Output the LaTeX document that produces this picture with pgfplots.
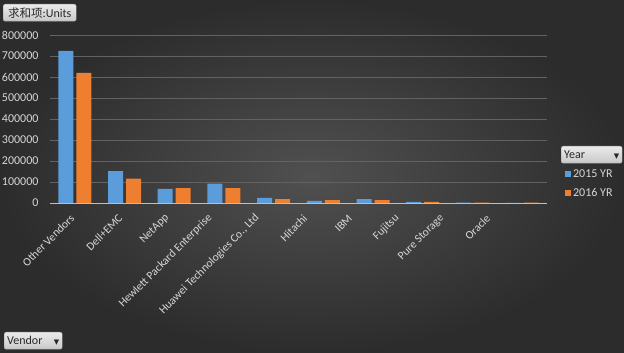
\documentclass[border=0pt]{standalone}
\usepackage{fontspec}
\setmainfont{Carlito}
\newfontfamily\cjk{Noto Sans CJK SC}
\newfontfamily\dejavu{DejaVu Sans}
\usepackage{pgfplots}
\pgfplotsset{compat=1.18}
\definecolor{bgin}{RGB}{80,80,80}
\definecolor{bgout}{RGB}{44,44,44}
\definecolor{gridc}{RGB}{98,98,98}
\definecolor{axisc}{RGB}{190,190,190}
\definecolor{txt}{RGB}{215,215,215}
\definecolor{cblue}{RGB}{91,157,219}
\definecolor{corange}{RGB}{238,126,48}
\definecolor{btntop}{RGB}{235,235,235}
\definecolor{btnbot}{RGB}{200,200,200}
\definecolor{btntxt}{RGB}{40,40,40}
\tikzset{button/.style={rounded corners=2pt, top color=btntop, bottom color=btnbot, draw=btnbot!80!black, text=btntxt, font=\fontsize{12}{14}\selectfont, inner sep=2pt, minimum height=17pt, anchor=north west}}
\begin{document}
\begin{tikzpicture}[x=1pt,y=1pt]
\useasboundingbox (0,0) rectangle (624,353);
\shade[inner color=bgin, outer color=bgout] (0,0) rectangle (624,353);
\begin{axis}[
  at={(50pt,150pt)}, anchor=south west, scale only axis,
  width=497pt, height=168pt,
  xmin=-0.5, xmax=9.5, ymin=0, ymax=800000,
  ytick={0,100000,...,800000},
  scaled y ticks=false,
  /pgf/number format/assume math mode=true,
  yticklabel style={/pgf/number format/fixed, /pgf/number format/1000 sep={}, text=txt, font=\fontsize{12}{14}\selectfont, xshift=-8pt},
  xtick={0,0.964,1.909,2.775,3.720,4.686,5.592,6.537,7.443,8.368},
  xticklabels={Other Vendors,Dell+EMC,NetApp,Hewlett Packard Enterprise,{Huawei Technologies Co., Ltd},Hitachi,IBM,Fujitsu,Pure Storage,Oracle},
  xticklabel style={xshift=0pt, yshift=-11pt, rotate=45, anchor=east, text=txt, font=\fontsize{11.5}{13}\selectfont},
  major tick length=0pt,
  axis x line*=bottom, axis y line*=left,
  x axis line style={draw=axisc, line width=0.8pt, -},
  y axis line style={draw=none},
  ymajorgrids, grid style={draw=gridc, line width=0.7pt},
  axis background/.style={fill=none},
  legend style={at={(1.03,0.225)}, anchor=north west, draw=none, fill=none, text=txt, font=\fontsize{12}{14}\selectfont, row sep=6pt, legend cell align=left},
  legend image code/.code={\fill[#1,draw=none] (0pt,-3pt) rectangle (6pt,3pt);},
]
\addplot[ybar, bar width=15pt, bar shift=-9pt, fill=cblue, draw=none] coordinates {
(0,724000) (1,152000) (2,67000) (3,92000) (4,24000) (5,10000) (6,19000) (7,5000) (8,2000) (9,1000)};
\addplot[ybar, bar width=15pt, bar shift=9pt, fill=corange, draw=none] coordinates {
(0,620000) (1,116000) (2,71000) (3,71000) (4,19000) (5,14000) (6,14000) (7,5000) (8,2000) (9,1500)};
\legend{2015 YR,2016 YR}
\end{axis}
\node[button, minimum width=73pt] at (3,349) {{\cjk\fontsize{11.5}{14}\selectfont 求和项}:Units};
\node[button, minimum width=61pt, text width=55pt] at (561,207) {Year\hfill{\dejavu\fontsize{7}{8}\selectfont ▼}};
\node[button, minimum width=58pt, text width=52pt] at (4,21) {Vendor\hfill{\dejavu\fontsize{7}{8}\selectfont ▼}};
\end{tikzpicture}
\end{document}
